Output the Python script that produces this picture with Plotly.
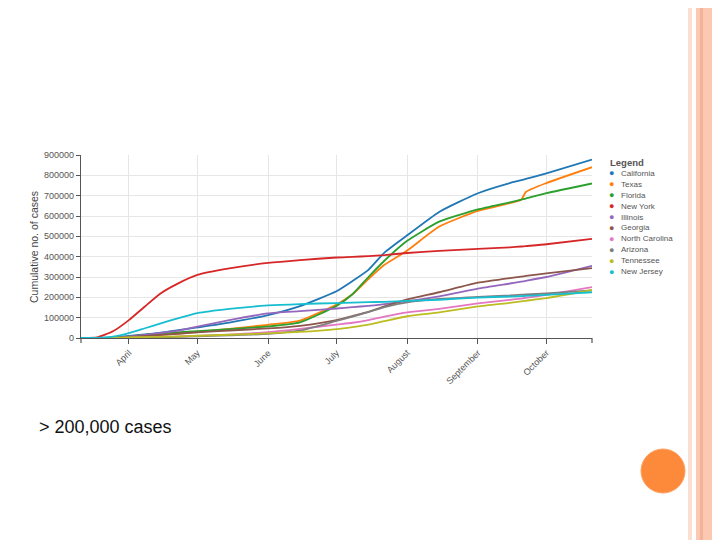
import plotly.graph_objects as go

# ---------------- data ----------------
dates = ["2020-03-11", "2020-03-18", "2020-03-25", "2020-04-01", "2020-04-08",
         "2020-04-15", "2020-04-22", "2020-05-01", "2020-05-15", "2020-06-01",
         "2020-06-15", "2020-07-01", "2020-07-08", "2020-07-15", "2020-07-22",
         "2020-08-01", "2020-08-15", "2020-09-01", "2020-09-15", "2020-09-20",
         "2020-09-22", "2020-10-01", "2020-10-21"]

states = ["California", "Texas", "Florida", "New York", "Illinois", "Georgia",
          "North Carolina", "Arizona", "Tennessee", "New Jersey"]

california = [200, 700, 2900, 9900, 18000, 26000, 37000, 52000, 76000, 113000,
              157000, 230000, 280000, 335000, 420000, 505000, 620000, 712000,
              762000, 776000, 782000, 810000, 877000]
texas = [20, 100, 1000, 4000, 9000, 15500, 21000, 29000, 45000, 65000,
         85000, 165000, 215000, 290000, 360000, 430000, 548000, 625000,
         663000, 680000, 718000, 762000, 840000]
florida = [30, 300, 1700, 7000, 15500, 22000, 28000, 34000, 44000, 57000,
           77000, 158000, 215000, 300000, 380000, 478000, 572000, 632000,
           667000, 681000, 686000, 712000, 760000]
new_york = [200, 2500, 33000, 88000, 155000, 220000, 265000, 310000, 342000, 369000,
            383000, 396000, 399000, 403000, 408000, 418000, 428000, 438000,
            446000, 450000, 452000, 461000, 488000]
illinois = [20, 300, 1800, 7000, 15000, 25000, 35000, 56000, 88000, 121000,
            132000, 145000, 152000, 158000, 167000, 181000, 205000, 243000,
            268000, 277000, 281000, 300000, 355000]
georgia = [20, 200, 1500, 5000, 10000, 15500, 21000, 28000, 37000, 47000,
           60000, 88000, 108000, 128000, 155000, 190000, 225000, 272000,
           295000, 302000, 305000, 318000, 344000]
north_carolina = [10, 60, 600, 1600, 3400, 5000, 7000, 10500, 17000, 29000,
                  45000, 66000, 75000, 88000, 105000, 126000, 143000, 170000,
                  188000, 194000, 197000, 212000, 250000]
arizona = [5, 30, 400, 1400, 3000, 4000, 5500, 7700, 13000, 20000,
           37000, 84000, 105000, 128000, 152000, 175000, 192000, 202000,
           209000, 213000, 214000, 219000, 234000]
tennessee = [5, 100, 900, 2800, 4600, 6000, 7500, 11000, 16000, 23000,
             30000, 44000, 54000, 66000, 83000, 107000, 126000, 155000,
             173000, 180000, 183000, 196000, 236000]
new_jersey = [25, 500, 6900, 24000, 48000, 72000, 95000, 122000, 143000, 160000,
              167000, 172000, 174000, 176000, 178000, 183000, 188000, 199000,
              204000, 206000, 207000, 212000, 225000]

series = [california, texas, florida, new_york, illinois, georgia,
          north_carolina, arizona, tennessee, new_jersey]
colors = ["#1f77b4", "#ff7f0e", "#2ca02c", "#d62728", "#9467bd", "#8c564b",
          "#e377c2", "#7f7f7f", "#bcbd22", "#17becf"]

y_title = "Cumulative no. of cases"
legend_title = "Legend"
slide_text = "> 200,000 cases"

# ---------------- geometry helpers (screen pixel -> paper) ----------------
# the html body has an 8px default margin, so the figure is shrunk by 8px
OFF = 8
W, H = 720 - OFF, 540 - OFF
L, R, T, B = 81, 592, 155, 338   # plot area in screen pixels


def px(x):
    return (x - L) / (R - L)


def py(y):
    return (B - y) / (B - T)


FONT = "Liberation Sans, Arial, sans-serif"

fig = go.Figure()
for name, vals, col in zip(states, series, colors):
    fig.add_trace(go.Scatter(x=dates, y=vals, mode="lines", name=name,
                             line=dict(color=col, width=1.8, shape="spline", smoothing=0.5),
                             showlegend=False))

fig.update_layout(
    width=W, height=H, autosize=False,
    margin=dict(l=L - OFF, r=720 - R, t=T - OFF, b=540 - B, pad=0),
    paper_bgcolor="white", plot_bgcolor="white",
    font=dict(family=FONT, color="#555555", size=9),
    xaxis=dict(
        type="date", range=[dates[0], dates[-1]],
        tick0="2020-04-01", dtick="M1", tickformat="%B", tickangle=-45,
        showgrid=True, gridcolor="#e6e6e6", gridwidth=1,
        showline=True, linecolor="#555555", linewidth=1.2,
        ticks="outside", ticklen=5, tickcolor="#555555",
        tickfont=dict(size=9, color="#555555"), zeroline=False,
    ),
    yaxis=dict(
        range=[0, 900000], dtick=100000, tickformat="d",
        showgrid=True, gridcolor="#e6e6e6", gridwidth=1,
        showline=True, linecolor="#555555", linewidth=1.2,
        ticks="outside", ticklen=4, tickcolor="#555555",
        tickfont=dict(size=9, color="#555555"), zeroline=False,
    ),
)

shapes = []
# outer ticks at ends of x axis
for xe in (0, 1):
    shapes.append(dict(type="line", xref="paper", yref="paper",
                       x0=xe, x1=xe, y0=0, y1=py(B + 5),
                       line=dict(color="#555555", width=1.2)))
# slide decoration: left border
shapes.append(dict(type="rect", xref="paper", yref="paper",
                   x0=px(3), x1=px(5), y0=py(0), y1=py(540),
                   fillcolor="#fbd2c4", line=dict(width=0), layer="below"))
shapes.append(dict(type="rect", xref="paper", yref="paper",
                   x0=px(6), x1=px(8), y0=py(0), y1=py(540),
                   fillcolor="#fde3d8", line=dict(width=0), layer="below"))
# slide decoration: right border
shapes.append(dict(type="rect", xref="paper", yref="paper",
                   x0=px(688), x1=px(692), y0=py(0), y1=py(540),
                   fillcolor="#fbe0d2", line=dict(width=0), layer="below"))
shapes.append(dict(type="rect", xref="paper", yref="paper",
                   x0=px(696), x1=px(720), y0=py(0), y1=py(540),
                   fillcolor="#fdc8b1", line=dict(width=0), layer="below"))
shapes.append(dict(type="rect", xref="paper", yref="paper",
                   x0=px(700), x1=px(703), y0=py(0), y1=py(540),
                   fillcolor="#f2b496", line=dict(width=0), layer="below"))
# orange circle
shapes.append(dict(type="circle", xref="paper", yref="paper",
                   x0=px(641), x1=px(685), y0=py(449), y1=py(493),
                   fillcolor="#fc8a3a", line=dict(color="#fca060", width=1)))

annotations = []
# y-axis title
annotations.append(dict(text=y_title, xref="paper", yref="paper",
                        x=px(34), y=py(247), showarrow=False, textangle=-90,
                        xanchor="center", yanchor="middle",
                        font=dict(size=10.5, color="#444444", family=FONT)))
# legend (drawn as annotations)
annotations.append(dict(text="<b>" + legend_title + "</b>", xref="paper", yref="paper",
                        x=px(608), y=py(162), showarrow=False,
                        xanchor="left", yanchor="middle",
                        font=dict(size=9.5, color="#555555", family=FONT)))
for i, (name, col) in enumerate(zip(states, colors)):
    yc = 173.3 + i * 10.93
    annotations.append(dict(text="●", xref="paper", yref="paper",
                            x=px(611.5), y=py(yc), showarrow=False,
                            xanchor="center", yanchor="middle",
                            font=dict(size=9, color=col, family=FONT)))
    annotations.append(dict(text=name, xref="paper", yref="paper",
                            x=px(618.5), y=py(yc), showarrow=False,
                            xanchor="left", yanchor="middle",
                            font=dict(size=8, color="#555555", family=FONT)))
# slide text
annotations.append(dict(text=slide_text, xref="paper", yref="paper",
                        x=px(37), y=py(427), showarrow=False,
                        xanchor="left", yanchor="middle",
                        font=dict(size=18, color="#111111", family=FONT)))

fig.update_layout(shapes=shapes, annotations=annotations)
fig.write_html("out.html")
